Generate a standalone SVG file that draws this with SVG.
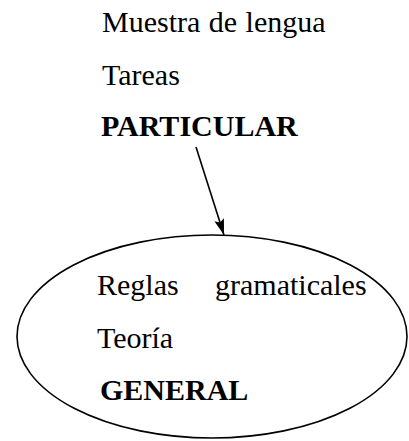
<svg xmlns="http://www.w3.org/2000/svg" width="409" height="441" viewBox="0 0 409 441">
<style>
.t{font-family:"Liberation Serif","Times New Roman",serif;font-size:30px;fill:#000}
.b{font-weight:bold}
.c{fill:none;stroke:#000;stroke-width:1.6}
</style>
<defs>
<marker id="ah" viewBox="0 0 16 10" refX="16" refY="5" markerWidth="16" markerHeight="10" markerUnits="userSpaceOnUse" orient="auto">
<path d="M0,0 L16,5 L0,10 L3,5 Z" fill="#000"/>
</marker>
</defs>
<rect width="409" height="441" fill="#fff"/>
<g id="top">
<text class="t" x="102" y="32" word-spacing="1">Muestra de lengua</text>
<text class="t" x="102" y="85">Tareas</text>
<text class="t b" x="101" y="136">PARTICULAR</text>
</g>
<g id="ellipse">
<ellipse class="c" cx="212" cy="336.5" rx="195" ry="101.5"/>
<text class="t" x="97" y="295">Reglas</text>
<text class="t" x="215" y="295">gramaticales</text>
<text class="t" x="97" y="348">Teoría</text>
<text class="t b" x="100" y="400">GENERAL</text>
</g>
<g id="connectors">
<path class="c" d="M196,147 L224,235" marker-end="url(#ah)" stroke-width="1.3"/>
</g>
</svg>
